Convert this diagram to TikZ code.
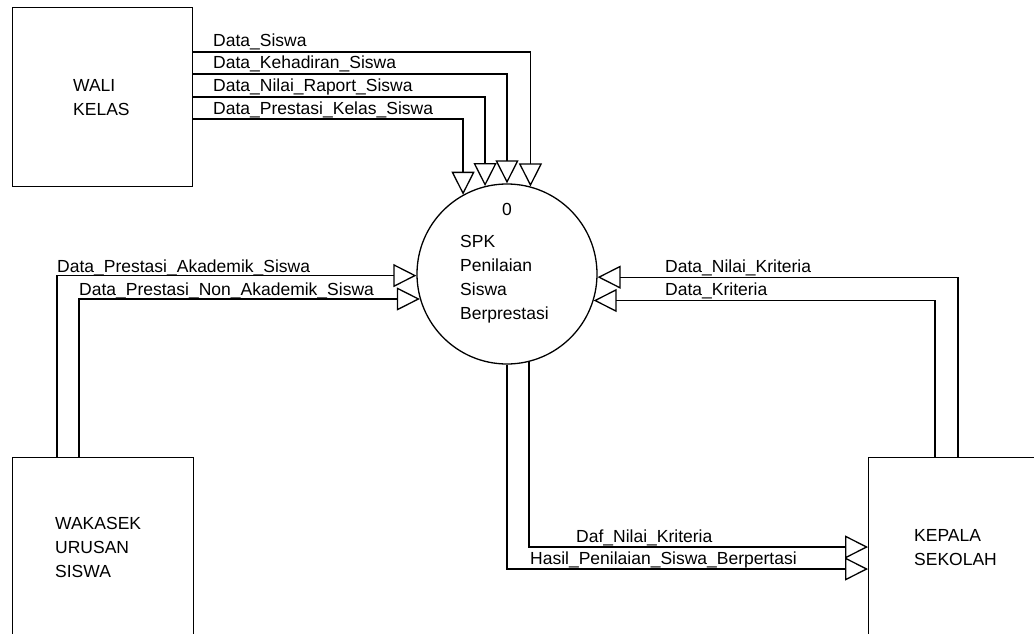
\documentclass[tikz,border=0pt]{standalone}
\usepackage{fontspec}
\setmainfont{Liberation Sans}
\usetikzlibrary{arrows.meta}

\begin{document}
\begin{tikzpicture}[x=1pt, y=-1pt,
    entity/.style={draw, line width=1.4pt, anchor=north west, inner sep=0pt},
    flow/.style={line width=1.3pt, -{Triangle[open, length=23pt, width=23pt, line width=1.3pt]}},
    txt/.style={anchor=base west, inner sep=0pt, align=left, font=\fontsize{17.5}{24}\selectfont}]
    \useasboundingbox (0,0) rectangle (1034,634);
    % entities and process
    \node[entity, minimum width=180pt, minimum height=179pt] (wali) at (12,7) {};
    \node[entity, minimum width=181pt, minimum height=200pt] (wakasek) at (12,457) {};
    \node[entity, minimum width=200pt, minimum height=200pt] (kepala) at (868,457) {};
    \node[draw, circle, line width=1.3pt, minimum size=180pt, inner sep=0pt] (spk) at (507,274) {};
    % multi-line texts sit on the baseline of their last line
    \node[txt] (walitxt) at (73,115) {WALI\\KELAS};
    \node[txt] (wakasektxt) at (55,577) {WAKASEK\\URUSAN\\SISWA};
    \node[txt] (kepalatxt) at (914,565) {KEPALA\\SEKOLAH};
    \node[txt, anchor=base] (spknum) at (507,215) {0};
    \node[txt] (spktxt) at (460,319) {SPK\\Penilaian\\Siswa\\Berprestasi};
    % data flows from wali kelas
    \draw[flow] (wali.east |- 0,52) -| (spk.75.2);
    \draw[flow] (wali.east |- 0,74) -| (spk.90);
    \draw[flow] (wali.east |- 0,97) -| (spk.104.8);
    \draw[flow] (wali.east |- 0,119) -| (spk.119.3);
    \node[txt] (dsiswa) at (213,47) {Data\_Siswa};
    \node[txt] (dhadir) at (213,69) {Data\_Kehadiran\_Siswa};
    \node[txt] (draport) at (213,92) {Data\_Nilai\_Raport\_Siswa};
    \node[txt] (dkelas) at (213,114) {Data\_Prestasi\_Kelas\_Siswa};
    % data flows from wakasek
    \draw[flow] (wakasek.north -| 57,0) |- (spk.181.9);
    \draw[flow] (wakasek.north -| 79,0) |- (spk.196.8);
    \node[txt] (dakad) at (57,272) {Data\_Prestasi\_Akademik\_Siswa};
    \node[txt] (dnonakad) at (79,295) {Data\_Prestasi\_Non\_Akademik\_Siswa};
    % data flows from kepala sekolah
    \draw[flow] (kepala.north -| 958,0) |- (spk.358.1);
    \draw[flow] (kepala.north -| 935,0) |- (spk.343.2);
    \node[txt] (dnilai) at (665,272) {Data\_Nilai\_Kriteria};
    \node[txt] (dkrit) at (665,295) {Data\_Kriteria};
    % data flows to kepala sekolah
    \draw[flow] (spk.284.1) |- (kepala.west |- 0,547);
    \draw[flow] (spk.270) |- (kepala.west |- 0,569);
    \node[txt] (dafnilai) at (576,542) {Daf\_Nilai\_Kriteria};
    \node[txt] (hasil) at (530,564) {Hasil\_Penilaian\_Siswa\_Berpertasi};
\end{tikzpicture}
\end{document}
